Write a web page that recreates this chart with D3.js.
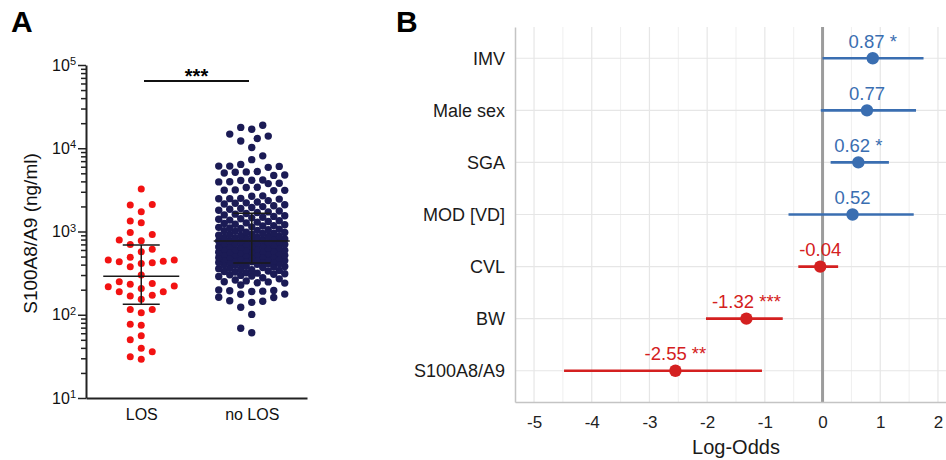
<!DOCTYPE html>
<html>
<head>
<meta charset="utf-8">
<script src="https://cdn.jsdelivr.net/npm/d3@7"></script>
<style>
  body { margin: 0; background: #fff; }
  svg { display: block; font-family: "Liberation Sans", Arial, sans-serif; }
</style>
</head>
<body>
<svg id="chart" width="946" height="460"></svg>
<script>
// ---- panel A data ----
var groups = ['LOS', 'no LOS'];

var losValues = [3230, 2115, 2075, 1723, 1333, 1271, 975, 923, 788, 773, 700, 610, 571,
  489, 454, 454, 438, 433, 421, 414, 377, 300, 249, 238, 232, 221, 217, 207, 189, 189,
  172, 168, 154, 116, 116, 106, 77, 75, 56, 50, 39.5, 36, 31.3, 29.2];

var noLosValues = [
  18900, 17800, 16900, 14800, 14000, 13100, 12200, 10200, 8100, 7300,
  6400, 6100, 6100, 6050, 5900, 5250, 5200, 5150, 5050, 4780, 4720,
  4150, 4120, 4100, 3960, 3940, 3800, 3760, 3400, 3370, 3160, 3140, 3120, 3100,
  2680, 2650, 2500, 2480, 2470, 2450, 2350, 2260, 2210, 2180, 2140, 2100,
  2040, 1990, 1945, 1890, 1850, 1800, 1765, 1720, 1690, 1648, 1615, 1582, 1546, 1518,
  1484, 1458, 1425, 1402, 1370, 1347, 1318, 1296, 1268, 1250, 1222, 1205, 1178, 1162,
  1138, 1122, 1100, 1087, 1066, 1052, 1033, 1020, 1004,
  983, 972, 955, 946, 928, 921, 903, 895, 880, 872, 857, 849, 836, 828, 814, 806, 795,
  787, 774, 768, 757, 752, 740, 733, 719, 712, 703, 697, 686, 681, 669, 663, 652, 646,
  637, 632, 620, 616, 605, 601,
  594, 588, 580, 575, 568, 563, 555, 551, 543, 540, 533, 528, 521, 517, 510, 506, 499,
  494, 488, 484, 476, 472, 467, 462, 456, 452, 447, 443, 436, 433, 427, 425, 417, 414,
  409, 404,
  398, 392, 385, 381, 375, 369, 363, 358, 352, 347, 341, 336, 331, 326, 320, 316, 311,
  306, 302, 297, 292, 288,
  278, 270, 262, 255, 249, 248, 242, 240, 228, 198, 196, 194, 192, 190, 177, 176, 162,
  161, 147, 145, 141, 123, 101, 68.7, 60.8
];

// summary lines: centre, lower bar, upper bar
var groupCentre = [290, 767];
var groupLow = [134, 417];
var groupHigh = [690, 1660];
var yTicksA = [10, 100, 1000, 10000, 100000];

// ---- panel B data ----
var predictors = ['IMV', 'Male sex', 'SGA', 'MOD [VD]', 'CVL', 'BW', 'S100A8/A9'];
var estimates = [0.87, 0.77, 0.62, 0.52, -0.04, -1.32, -2.55];
var ciLow = [0.0, -0.03, 0.14, -0.59, -0.42, -2.02, -4.48];
var ciHigh = [1.75, 1.62, 1.15, 1.58, 0.27, -0.69, -1.05];
var stars = ['*', '', '*', '', '', '***', '**'];
var xTicksB = [-5, -4, -3, -2, -1, 0, 1, 2];

var svg = d3.select('#chart');

// ================= panel A =================
var yA = d3.scaleLog().domain([10, 1e5]).range([398, 65]);
var xA = d3.scalePoint().domain(groups).range([86, 307]).padding(0.5);

var minorTicks = [];
yTicksA.slice(0, -1).forEach(function (dec) {
  d3.range(2, 10).forEach(function (k) { minorTicks.push(dec * k); });
});

var gA = svg.append('g');

// greedy dot placement, nearest-to-centre slot that does not touch a placed dot;
// where every slot is taken the emptiest one is used
function swarm(values, cx, step, maxOff, minDist) {
  var offsets = [0];
  for (var k = 1; k * step <= maxOff + 0.01; k++) offsets.push(-k * step, k * step);
  var placed = [];
  return values.slice().sort(function (a, b) { return a - b; }).map(function (v) {
    var py = yA(v), best = null, bestD = -1;
    for (var i = 0; i < offsets.length; i++) {
      var px = cx + offsets[i], dmin = Infinity;
      placed.forEach(function (q) {
        if (Math.abs(q.y - py) < minDist) dmin = Math.min(dmin, Math.hypot(q.x - px, q.y - py));
      });
      if (dmin >= minDist) { best = px; break; }
      if (dmin > bestD) { bestD = dmin; best = px; }
    }
    var p = {x: best, y: py};
    placed.push(p);
    return p;
  });
}

var losDots = swarm(losValues, xA('LOS'), 11, 33, 10);
var noLosDots = swarm(noLosValues, xA('no LOS'), 5.5, 33, 10);

gA.append('g').selectAll('circle')
  .data(noLosDots)
  .enter()
  .append('circle')
  .attr('cx', function (d) { return d.x; })
  .attr('cy', function (d) { return d.y; })
  .attr('r', 3.7)
  .attr('fill', '#1b1b55');

gA.append('g').selectAll('circle')
  .data(losDots)
  .enter()
  .append('circle')
  .attr('cx', function (d) { return d.x; })
  .attr('cy', function (d) { return d.y; })
  .attr('r', 3.5)
  .attr('fill', '#f21212');

// mean and error bars
var bars = gA.append('g').attr('stroke', '#1a1a1a').attr('stroke-width', 1.5);
groups.forEach(function (g, i) {
  var cx = xA(g);
  bars.append('line').attr('x1', cx - 38).attr('x2', cx + 38)
    .attr('y1', yA(groupCentre[i])).attr('y2', yA(groupCentre[i]));
  bars.append('line').attr('x1', cx).attr('x2', cx)
    .attr('y1', yA(groupLow[i])).attr('y2', yA(groupHigh[i]));
  [groupLow[i], groupHigh[i]].forEach(function (v) {
    bars.append('line').attr('x1', cx - 18.5).attr('x2', cx + 18.5)
      .attr('y1', yA(v)).attr('y2', yA(v));
  });
});

// axes
gA.append('g')
  .attr('transform', 'translate(86,0)')
  .call(d3.axisLeft(yA).tickValues(minorTicks).tickSize(5).tickSizeOuter(0).tickFormat(''))
  .call(function (g) { g.select('.domain').remove(); });

var yAxisA = gA.append('g')
  .attr('transform', 'translate(86,0)')
  .call(d3.axisLeft(yA).tickValues(yTicksA).tickSize(8).tickSizeOuter(0).tickPadding(2).tickFormat(''));

yAxisA.selectAll('.tick text')
  .attr('font-size', 16)
  .attr('fill', '#111')
  .each(function (d) {
    var t = d3.select(this);
    t.append('tspan').text('10');
    t.append('tspan').attr('dy', '-0.5em').attr('font-size', 11)
      .text(Math.round(Math.log10(d)));
  });

gA.selectAll('.tick line').attr('stroke', '#222').attr('stroke-width', 1.5);
yAxisA.select('.domain').attr('stroke', '#222').attr('stroke-width', 2);

var xAxisA = gA.append('g')
  .attr('transform', 'translate(0,398)')
  .call(d3.axisBottom(xA).tickSize(0).tickSizeOuter(0).tickPadding(11));
xAxisA.select('.domain').attr('stroke', '#222').attr('stroke-width', 2);
xAxisA.selectAll('.tick text').attr('font-size', 16).attr('fill', '#111');

gA.append('text')
  .attr('transform', 'translate(37,233.5) rotate(-90)')
  .attr('text-anchor', 'middle')
  .attr('font-size', 19)
  .attr('fill', '#111')
  .text('S100A8/A9 (ng/ml)');

// significance bar
gA.append('line')
  .attr('x1', 144).attr('x2', 249).attr('y1', 81).attr('y2', 81)
  .attr('stroke', '#111').attr('stroke-width', 2);
gA.append('text')
  .attr('x', 196.5).attr('y', 83)
  .attr('text-anchor', 'middle')
  .attr('font-size', 20).attr('font-weight', 'bold')
  .text('***');

gA.append('text')
  .attr('x', 11).attr('y', 32)
  .attr('font-size', 30).attr('font-weight', 'bold')
  .text('A');

// ================= panel B =================
var xB = d3.scaleLinear().domain([-5.33, 2.33]).range([515, 957]);
var yB = d3.scalePoint().domain(predictors).range([27, 402]).padding(0.6);

var gB = svg.append('g');
var minorB = d3.range(-4.5, 2.5, 1);

gB.append('g').selectAll('line')
  .data(minorB)
  .enter()
  .append('line')
  .attr('x1', function (d) { return xB(d); })
  .attr('x2', function (d) { return xB(d); })
  .attr('y1', 27).attr('y2', 402)
  .attr('stroke', '#efefef').attr('stroke-width', 1);

gB.append('g').selectAll('line')
  .data(xTicksB)
  .enter()
  .append('line')
  .attr('x1', function (d) { return xB(d); })
  .attr('x2', function (d) { return xB(d); })
  .attr('y1', 27).attr('y2', 402)
  .attr('stroke', '#e6e6e6').attr('stroke-width', 1.2);

gB.append('g').selectAll('line')
  .data(predictors)
  .enter()
  .append('line')
  .attr('x1', 515).attr('x2', 957)
  .attr('y1', function (d) { return yB(d); })
  .attr('y2', function (d) { return yB(d); })
  .attr('stroke', '#e6e6e6').attr('stroke-width', 1.2);

// zero reference line
gB.append('line')
  .attr('x1', xB(0)).attr('x2', xB(0)).attr('y1', 27).attr('y2', 402)
  .attr('stroke', '#9c9c9c').attr('stroke-width', 3);

var yAxisB = gB.append('g')
  .attr('transform', 'translate(515,0)')
  .call(d3.axisLeft(yB).tickSize(0).tickSizeOuter(0).tickPadding(10));
yAxisB.select('.domain').attr('stroke', '#c4c4c4').attr('stroke-width', 1.5);
yAxisB.selectAll('.tick text').attr('font-size', 18).attr('fill', '#1a1a1a');

var xAxisB = gB.append('g')
  .attr('transform', 'translate(0,402)')
  .call(d3.axisBottom(xB).tickValues(xTicksB).tickSize(0).tickSizeOuter(0).tickPadding(14)
    .tickFormat(function (d) { return String(d); }));
xAxisB.select('.domain').attr('stroke', '#c4c4c4').attr('stroke-width', 1.5);
xAxisB.selectAll('.tick text').attr('font-size', 17).attr('fill', '#222');

gB.append('text')
  .attr('x', (515 + 957) / 2).attr('y', 454)
  .attr('text-anchor', 'middle')
  .attr('font-size', 20).attr('fill', '#1a1a1a')
  .text('Log-Odds');

function colourOf(i) { return estimates[i] >= 0 ? '#3a6eb1' : '#d42020'; }

var rows = gB.append('g').selectAll('g')
  .data(predictors)
  .enter()
  .append('g');

rows.append('line')
  .attr('x1', function (d, i) { return xB(ciLow[i]); })
  .attr('x2', function (d, i) { return xB(ciHigh[i]); })
  .attr('y1', function (d) { return yB(d); })
  .attr('y2', function (d) { return yB(d); })
  .attr('stroke', function (d, i) { return colourOf(i); })
  .attr('stroke-width', 2.6);

rows.append('circle')
  .attr('cx', function (d, i) { return xB(estimates[i]); })
  .attr('cy', function (d) { return yB(d); })
  .attr('r', 6.2)
  .attr('fill', function (d, i) { return colourOf(i); });

rows.append('text')
  .attr('x', function (d, i) { return xB(estimates[i]); })
  .attr('y', function (d) { return yB(d) - 10.5; })
  .attr('text-anchor', 'middle')
  .attr('font-size', 18.5)
  .attr('fill', function (d, i) { return colourOf(i); })
  .text(function (d, i) { return estimates[i].toFixed(2) + (stars[i] ? ' ' + stars[i] : ''); });

svg.append('text')
  .attr('x', 396).attr('y', 32)
  .attr('font-size', 30).attr('font-weight', 'bold')
  .text('B');
</script>
</body>
</html>
